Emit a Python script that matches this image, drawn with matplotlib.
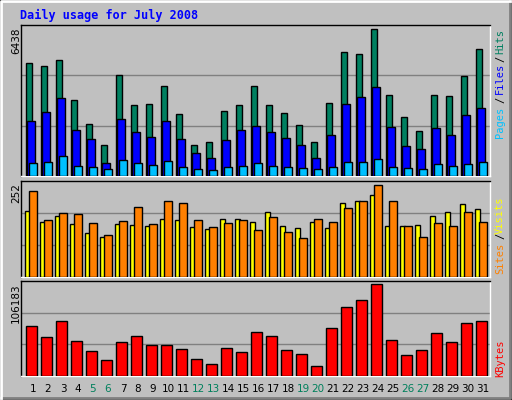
import matplotlib
matplotlib.use("Agg")
import matplotlib.pyplot as plt
import numpy as np
from matplotlib.patches import Rectangle

days = list(range(1, 32))
weekends = [5, 6, 12, 13, 19, 20, 26, 27]
hits = [4817,4689,4945,3240,2217,1322,4306,3027,3069,3837,2643,1322,1449,2771,3027,3837,
        3027,2686,2174,1449,3112,5286,5201,6267,3453,2515,1918,3453,3410,4263,5414]
files = [2345,2728,3325,1961,1577,554,2430,1876,1663,2345,1577,980,767,1535,1961,2132,
         1876,1620,1322,767,1748,3069,3368,3794,2089,1279,1151,2046,1748,2600,2899]
pages = [554,597,853,426,384,298,682,554,469,639,384,298,256,384,426,554,
         426,384,341,298,384,597,597,725,384,341,298,512,426,512,597]
sites = [173,144,160,139,116,105,139,137,134,152,150,131,126,152,152,144,
         171,134,129,144,129,194,200,215,134,134,137,160,171,192,179]
visits = [226,150,168,165,142,110,147,184,139,200,194,150,131,142,150,123,
          158,118,102,152,144,181,200,242,200,134,105,142,134,171,144]
kbytes = [55154,42773,60782,38270,27014,16884,37145,43898,33768,33768,29266,18010,12382,30391,
          25889,48401,43898,28140,23638,10130,52903,76541,84420,102430,39396,22512,28140,47275,
          37145,58531,60782]
max_hits, max_visits, max_kb = 6438, 252, 106183
title = "Daily usage for July 2008"

W, H = 512, 400
fig = plt.figure(figsize=(W/100, H/100), dpi=100)
fig.patch.set_facecolor("#C0C0C0")
mono = "DejaVu Sans Mono"

def px(x, y):
    return x / W, 1 - y / H

bg = fig.add_axes([0, 0, 1, 1]); bg.set_xlim(0, W); bg.set_ylim(H, 0); bg.axis("off")
bg.plot([1, W-2, W-2], [H-2, H-2, 1], color="#808080", lw=2)
bg.plot([1, 1, W-2], [H-2, 1, 1], color="white", lw=2)
bg.add_patch(Rectangle((0, 0), W-1, H-1, fill=False, ec="black", lw=1))

fig.text(*px(20, 15), title, color="#0000FF", fontsize=8.5, fontweight="bold",
         family=mono, va="center", ha="left")

def panel(y0, y1):
    l, r = 20.7, 490.3
    ax = fig.add_axes([l/W, 1 - y1/H, (r-l)/W, (y1-y0)/H])
    ax.set_facecolor("#C0C0C0")
    ax.set_xlim(0.18, 31.49)
    ax.set_xticks([]); ax.set_yticks([])
    for s in ax.spines.values():
        s.set_color("black"); s.set_linewidth(1)
    ax.spines["right"].set_color("white"); ax.spines["bottom"].set_color("white")
    return ax

x = np.array(days, dtype=float)
kw = dict(edgecolor="black", linewidth=1, align="edge", zorder=3)

ax1 = panel(25, 176.5)
ax1.set_ylim(0, max_hits)
for g in (max_hits/3, 2*max_hits/3):
    ax1.axhline(g, color="#808080", lw=1, zorder=1)
ax1.bar(x-0.49, hits, width=0.45, color="#008060", **kw)
ax1.bar(x-0.40, files, width=0.51, color="#0000FF", **kw)
ax1.bar(x-0.24, pages, width=0.48, color="#00C0FF", **kw)

ax2 = panel(181, 276.5)
ax2.set_ylim(0, max_visits)
for g in (max_visits/3, 2*max_visits/3):
    ax2.axhline(g, color="#808080", lw=1, zorder=1)
ax2.bar(x-0.51, sites, width=0.29, color="#FFFF00", **kw)
ax2.bar(x-0.24, visits, width=0.48, color="#FF8000", **kw)

ax3 = panel(281, 375.5)
ax3.set_ylim(0, max_kb)
for g in (max_kb/3, 2*max_kb/3):
    ax3.axhline(g, color="#808080", lw=1, zorder=1)
ax3.bar(x-0.44, kbytes, width=0.68, color="#FF0000", **kw)

for d in days:
    xf = (20.7 + (d - 0.18) / (31.49 - 0.18) * (490.3 - 20.7)) / W
    fig.text(xf, 1 - 389/H, str(d), ha="center", va="center", fontsize=7.5,
             family="DejaVu Sans", color="#00805C" if d in weekends else "black")

for yy, lab in ((27, str(max_hits)), (183, str(max_visits)), (283, str(max_kb))):
    fig.text(*px(16, yy), lab, rotation=90, ha="center", va="top", fontsize=7.5, family="DejaVu Sans")

def rl(t, c, ycenter):
    fig.text(*px(500, ycenter), t, rotation=90, ha="center", va="center",
             fontsize=7.5, family=mono, color=c)

rl("Pages", "#00C0FF", 122)
rl("/", "black", 100)
rl("Files", "#0000FF", 78)
rl("/", "black", 59)
rl("Hits", "#008060", 42)
rl("Sites", "#FF8000", 258)
rl("/", "black", 236)
rl("Visits", "#FFFF00", 215)
rl("KBytes", "#FF0000", 358)

fig.savefig("out.png", dpi=100, facecolor=fig.get_facecolor())
